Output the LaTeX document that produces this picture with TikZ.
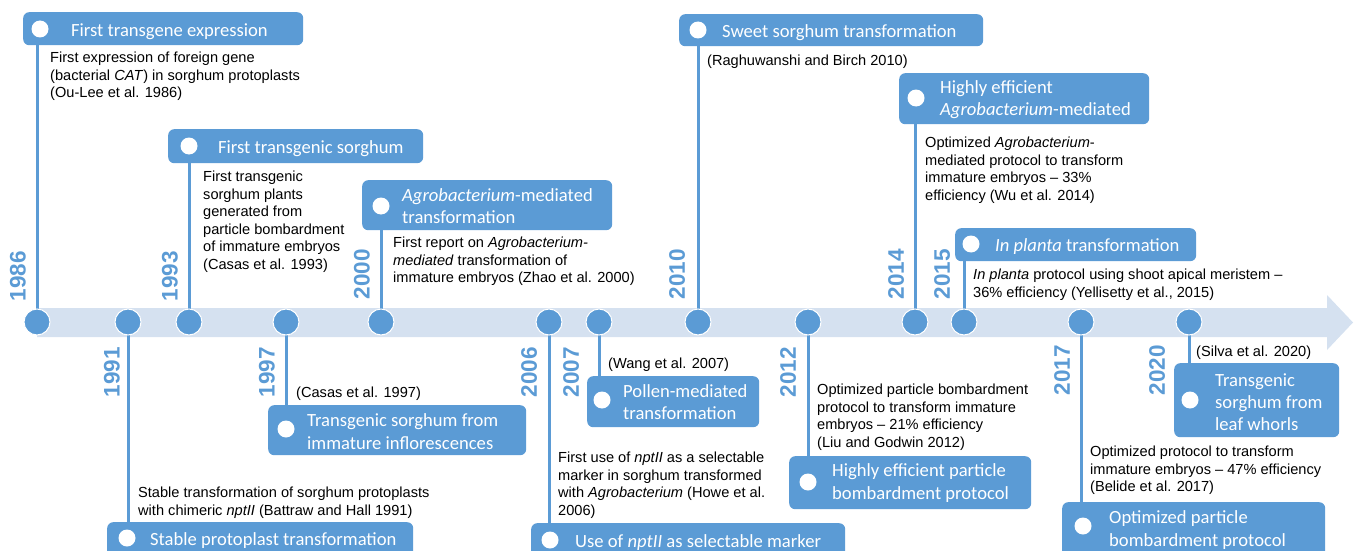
\documentclass[tikz,border=0pt]{standalone}
\usepackage{fontspec}
\setmainfont{Liberation Sans}
\newfontfamily\titlefont{Carlito}
\definecolor{tblue}{HTML}{5B9BD5}
\definecolor{bandc}{HTML}{D5E1F0}
\pgfdeclarelayer{back}
\pgfdeclarelayer{mid}
\pgfsetlayers{back,mid,main}
\begin{document}
\begin{tikzpicture}[x=1pt,y=-1pt,
  box/.style={fill=tblue, rounded corners=6pt, draw=none, inner sep=0, anchor=north west},
  wdot/.style={circle, fill=white, minimum size=17pt, inner sep=0},
  dotm/.style={circle, fill=tblue, draw=white, line width=1pt, minimum size=26pt, inner sep=0},
  ttl/.style={font=\titlefont\fontsize{18.6}{22.3}\selectfont, text=white, anchor=west, inner sep=0, align=left, yshift=-1pt},
  ttlone/.style={ttl, yshift=-1.5pt},
  body/.style={font=\fontsize{14.6}{17.5}\selectfont, anchor=north west, inner sep=0, align=left},
  yr/.style={font=\bfseries\fontsize{22.5}{24}\selectfont, text=tblue, rotate=90, inner sep=0},
  stem/.style={draw=tblue, line width=3pt},
]
\useasboundingbox (0,0) rectangle (1355,551);
\clip (0,0) rectangle (1355,551);
\begin{pgfonlayer}{back}
\fill[bandc] (37,308) -- (1327,308) -- (1327,295) -- (1353,322.5) -- (1327,350) -- (1327,337) -- (37,337) -- cycle;
\end{pgfonlayer}

% dots
\foreach \yy/\xx in {1986/37,1991/128,1993/189,1997/286,2000/381,2006/549,2007/599,2010/698,2012/808,2014/915,2015/964,2017/1081,2020/1189}
  \node[dotm] (d\yy) at (\xx,322) {};

% years
\node[yr] (y1986) at (18,276) {1986};
\node[yr] (y1993) at (170,276) {1993};
\node[yr] (y2000) at (362,274) {2000};
\node[yr] (y2010) at (677,274) {2010};
\node[yr] (y2014) at (896,274) {2014};
\node[yr] (y2015) at (942,274) {2015};
\node[yr] (y1991) at (112,372) {1991};
\node[yr] (y1997) at (267,372) {1997};
\node[yr] (y2006) at (529,372) {2006};
\node[yr] (y2007) at (571,372) {2007};
\node[yr] (y2012) at (788,372) {2012};
\node[yr] (y2017) at (1062,370) {2017};
\node[yr] (y2020) at (1157,370) {2020};

% 1986
\node[box, minimum width=280pt, minimum height=33pt] (b1986) at (23,12) {};
\node[wdot] (c1986) at (40,29) {};
\node[ttlone] (t1986) at (71,29) {First transgene expression};
\node[body] (x1986) at (50,52) {First expression of foreign gene\\(bacterial \textit{CAT}) in sorghum protoplasts\\(Ou-Lee et al. 1986)};

% 1993
\node[box, minimum width=255pt, minimum height=34pt] (b1993) at (168,129) {};
\node[wdot] (c1993) at (189,146) {};
\node[ttlone] (t1993) at (218,146) {First transgenic sorghum};
\node[body] (x1993) at (203,171) {First transgenic\\sorghum plants\\generated from\\particle bombardment\\of immature embryos\\(Casas et al. 1993)};

% 2000
\node[box, minimum width=250pt, minimum height=50pt] (b2000) at (362,180) {};
\node[wdot] (c2000) at (381,206) {};
\node[ttl] (t2000) at (402,205) {\textit{Agrobacterium}-mediated\\transformation};
\node[body] (x2000) at (393,237) {First report on \textit{Agrobacterium-}\\\textit{mediated} transformation of\\immature embryos (Zhao et al. 2000)};

% 2010
\node[box, minimum width=304pt, minimum height=32pt] (b2010) at (679,14) {};
\node[wdot] (c2010) at (698,30) {};
\node[ttlone] (t2010) at (722,30) {Sweet sorghum transformation};
\node[body] (x2010) at (707,55) {(Raghuwanshi and Birch 2010)};

% 2014
\node[box, minimum width=250pt, minimum height=51pt] (b2014) at (899,73) {};
\node[wdot] (c2014) at (916,98) {};
\node[ttl] (t2014) at (940,98.5) {Highly efficient\\\textit{Agrobacterium}-mediated};
\node[body] (x2014) at (925,137) {Optimized \textit{Agrobacterium}-\\mediated protocol to transform\\immature embryos -- 33\%\\efficiency (Wu et al. 2014)};

% 2015
\node[box, minimum width=241pt, minimum height=33pt] (b2015) at (955,228) {};
\node[wdot] (c2015) at (971,244) {};
\node[ttlone] (t2015) at (995,244) {\textit{In planta} transformation};
\node[body] (x2015) at (973,269) {\textit{In planta} protocol using shoot apical meristem --\\36\% efficiency (Yellisetty et al., 2015)};

% 1991
\node[box, minimum width=306pt, minimum height=40pt] (b1991) at (107,522) {};
\node[wdot] (c1991) at (127,538) {};
\node[ttlone] (t1991) at (150,538) {Stable protoplast transformation};
\node[body] (x1991) at (138,487) {Stable transformation of sorghum protoplasts\\with chimeric \textit{nptII} (Battraw and Hall 1991)};

% 1997
\node[box, minimum width=258pt, minimum height=50pt] (b1997) at (268,405) {};
\node[wdot] (c1997) at (286,429) {};
\node[ttl] (t1997) at (307,430.5) {Transgenic sorghum from\\immature inflorescences};
\node[body] (x1997) at (296,387) {(Casas et al. 1997)};

% 2006
\node[box, minimum width=314pt, minimum height=40pt] (b2006) at (531,523) {};
\node[wdot] (c2006) at (550,540) {};
\node[ttlone] (t2006) at (575,540) {Use of \textit{nptII} as selectable marker};
\node[body] (x2006) at (558,452) {First use of \textit{nptII} as a selectable\\marker in sorghum transformed\\with \textit{Agrobacterium} (Howe et al.\\2006)};

% 2007
\node[box, minimum width=172pt, minimum height=51pt] (b2007) at (587,376) {};
\node[wdot] (c2007) at (602,400) {};
\node[ttl] (t2007) at (623,401) {Pollen-mediated\\transformation};
\node[body] (x2007) at (608,358) {(Wang et al. 2007)};

% 2012
\node[box, minimum width=242pt, minimum height=53pt] (b2012) at (789,456) {};
\node[wdot] (c2012) at (808,482) {};
\node[ttl] (t2012) at (832,482) {Highly efficient particle\\bombardment protocol};
\node[body] (x2012) at (817,384) {Optimized particle bombardment\\protocol to transform immature\\embryos -- 21\% efficiency\\(Liu and Godwin 2012)};

% 2017
\node[box, minimum width=263pt, minimum height=56pt] (b2017) at (1062,502) {};
\node[wdot] (c2017) at (1083,526) {};
\node[ttl] (t2017) at (1109,529) {Optimized particle\\bombardment protocol};
\node[body] (x2017) at (1090,446) {Optimized protocol to transform\\immature embryos -- 47\% efficiency\\(Belide et al. 2017)};

% 2020
\node[box, minimum width=165pt, minimum height=74pt] (b2020) at (1174,363) {};
\node[wdot] (c2020) at (1190,400) {};
\node[ttl] (t2020) at (1215,401) {Transgenic\\sorghum from\\leaf whorls};
\node[body] (x2020) at (1196,346) {(Silva et al. 2020)};

% stems
\begin{pgfonlayer}{mid}
\foreach \yy in {1986,1993,2000,2010,2014,2015}
  \draw[stem] (d\yy.center) -- (d\yy.center |- b\yy.south);
\foreach \yy in {1991,1997,2006,2007,2012,2017,2020}
  \draw[stem] (d\yy.center) -- (d\yy.center |- b\yy.north);
\end{pgfonlayer}
\end{tikzpicture}
\end{document}
